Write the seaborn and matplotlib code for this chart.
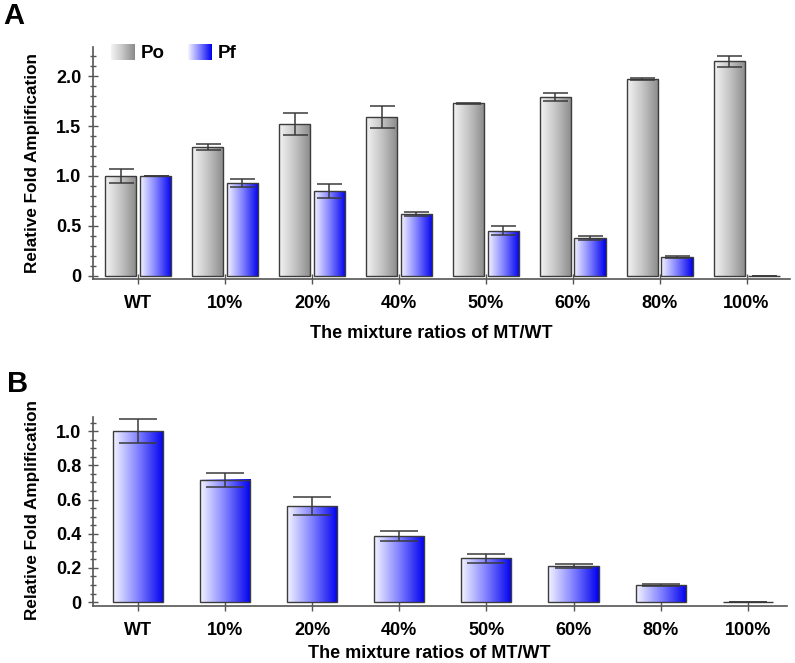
"""Relative fold amplification of Po / Pf at different MT/WT mixture ratios."""

import matplotlib

matplotlib.use("Agg")

import matplotlib.pyplot as plt
import numpy as np
import pandas as pd
import seaborn as sns
from matplotlib.colors import LinearSegmentedColormap
from matplotlib.image import BboxImage
from matplotlib.legend_handler import HandlerBase
from matplotlib.patches import Patch
from matplotlib.ticker import FixedLocator, MultipleLocator
from matplotlib.transforms import Bbox, TransformedBbox

# data
ratios = ["WT", "10%", "20%", "40%", "50%", "60%", "80%", "100%"]
po_mean = [1.00, 1.29, 1.52, 1.59, 1.73, 1.79, 1.97, 2.15]
po_err = [0.07, 0.03, 0.11, 0.11, 0.005, 0.04, 0.01, 0.055]
pf_mean = [1.00, 0.93, 0.85, 0.62, 0.45, 0.38, 0.19, 0.0]
pf_err = [0.0, 0.04, 0.07, 0.02, 0.045, 0.02, 0.01, 0.0]
b_mean = [1.00, 0.717, 0.561, 0.386, 0.257, 0.21, 0.097, 0.0]
b_err = [0.07, 0.041, 0.053, 0.031, 0.026, 0.012, 0.006, 0.0]
a_yticks = [0, 0.5, 1.0, 1.5, 2.0]
a_yticklabels = ["0", "0.5", "1.0", "1.5", "2.0"]
b_yticks = [0, 0.2, 0.4, 0.6, 0.8, 1.0]
b_yticklabels = ["0", "0.2", "0.4", "0.6", "0.8", "1.0"]

GRAY = LinearSegmentedColormap.from_list("po", ["#f4f4f4", "#c4c4c4", "#8a8a8a"])
BLUE = LinearSegmentedColormap.from_list("pf", ["#f4f4ff", "#8080ff", "#0000ee"])
EDGE = "#3c3c3c"
AXIS = "#555555"
FONT = ["Liberation Sans", "DejaVu Sans"]

sns.set_style("ticks")
plt.rcParams["font.family"] = FONT
plt.rcParams["font.weight"] = "bold"
plt.rcParams["text.color"] = "black"


class GradientHandler(HandlerBase):
    """Legend patch filled with a horizontal gradient."""

    def __init__(self, cmap):
        super().__init__()
        self.cmap = cmap

    def create_artists(self, legend, orig_handle, xdescent, ydescent, width, height, fontsize, trans):
        box = TransformedBbox(Bbox.from_bounds(-xdescent, -ydescent, width, height), trans)
        img = BboxImage(box, cmap=self.cmap, interpolation="bilinear")
        img.set_data(np.linspace(0, 1, 64).reshape(1, -1))
        return [img]


def fill_gradient(ax, bars, cmap):
    grad = np.linspace(0, 1, 128).reshape(1, -1)
    for patch in bars:
        x0, y0 = patch.get_x(), patch.get_y()
        w, h = patch.get_width(), patch.get_height()
        patch.set_facecolor("none")
        patch.set_zorder(2)
        if h <= 0:
            continue
        ax.imshow(grad, extent=[x0, x0 + w, y0, y0 + h], cmap=cmap, aspect="auto",
                  interpolation="bicubic", zorder=1)


def add_errors(ax, bars, errs, capsize):
    xs = [p.get_x() + p.get_width() / 2 for p in bars]
    ys = [p.get_height() for p in bars]
    ax.errorbar(xs, ys, yerr=errs, fmt="none", ecolor="#3a3a3a", elinewidth=1.1,
                capsize=capsize, capthick=1.1, zorder=3)


def style_axis(ax, ticks, labels, minor):
    sns.despine(ax=ax)
    for side in ["left", "bottom"]:
        ax.spines[side].set_color(AXIS)
        ax.spines[side].set_linewidth(1.2)
    ax.yaxis.set_major_locator(FixedLocator(ticks))
    ax.set_yticklabels(labels)
    ax.yaxis.set_minor_locator(MultipleLocator(minor))
    ax.tick_params(axis="y", which="major", direction="inout", length=7, width=1,
                   color=AXIS, labelcolor="black", labelsize=13, pad=5)
    ax.tick_params(axis="y", which="minor", direction="inout", length=4, width=1, color=AXIS)
    ax.tick_params(axis="x", which="major", direction="inout", length=7, width=1,
                   color=AXIS, labelcolor="black", labelsize=13, pad=8)
    for lab in ax.get_xticklabels() + ax.get_yticklabels():
        lab.set_fontweight("bold")
    ax.set_xlabel("")
    ax.set_ylabel("")


fig = plt.figure(figsize=(7.95, 6.63), dpi=100)
ax_a = fig.add_axes([0.1170, 0.5792, 0.8767, 0.3499])
ax_b = fig.add_axes([0.1170, 0.0860, 0.8730, 0.2851])

# panel A
df_a = pd.DataFrame({
    "ratio": ratios * 2,
    "value": po_mean + pf_mean,
    "strain": ["Po"] * len(ratios) + ["Pf"] * len(ratios),
})
sns.barplot(data=df_a, x="ratio", y="value", hue="strain", hue_order=["Po", "Pf"],
            palette=["#bbbbbb", "#6666ff"], width=0.8, gap=0.1, errorbar=None,
            edgecolor=EDGE, linewidth=1.0, legend=False, ax=ax_a)
po_bars, pf_bars = ax_a.containers[0], ax_a.containers[1]
fill_gradient(ax_a, po_bars, GRAY)
fill_gradient(ax_a, pf_bars, BLUE)
add_errors(ax_a, po_bars, po_err, 9)
add_errors(ax_a, pf_bars, pf_err, 9)
style_axis(ax_a, a_yticks, a_yticklabels, 0.1)
ax_a.set_xlim(-0.52, 7.5)
ax_a.set_ylim(-0.03, 2.29)

h_po, h_pf = Patch(label="Po"), Patch(label="Pf")
ax_a.legend(handles=[h_po, h_pf], labels=["Po", "Pf"], ncol=2, frameon=False,
            handler_map={h_po: GradientHandler(GRAY), h_pf: GradientHandler(BLUE)},
            loc="upper left", bbox_to_anchor=(111 / 795, 1 - 44 / 663),
            bbox_transform=fig.transFigure, borderpad=0, borderaxespad=0,
            handlelength=1.25, handleheight=0.9, handletextpad=0.35, columnspacing=1.2,
            prop={"size": 13.5, "weight": "bold"})

# panel B
sns.barplot(x=ratios, y=b_mean, color="#6666ff", width=0.575, errorbar=None,
            edgecolor=EDGE, linewidth=1.0, ax=ax_b)
b_bars = ax_b.containers[0]
fill_gradient(ax_b, b_bars, BLUE)
add_errors(ax_b, b_bars, b_err, 14)
style_axis(ax_b, b_yticks, b_yticklabels, 0.05)
ax_b.set_xlim(-0.513, 7.45)
ax_b.set_ylim(-0.023, 1.083)

# labels
ylab = "Relative Fold Amplification"
xlab = "The mixture ratios of MT/WT"
fig.text(33 / 795, 1 - 163 / 663, ylab, rotation=90, ha="center", va="center",
         fontsize=12.3, fontweight="bold")
fig.text(33 / 795, 1 - 510 / 663, ylab, rotation=90, ha="center", va="center",
         fontsize=12.3, fontweight="bold")
fig.text(431 / 795, 1 - 333 / 663, xlab, ha="center", va="center",
         fontsize=13, fontweight="bold")
fig.text(429 / 795, 1 - 653 / 663, xlab, ha="center", va="center",
         fontsize=13, fontweight="bold")
fig.text(3 / 795, 1 - 2 / 663, "A", ha="left", va="top", fontsize=21, fontweight="bold")
fig.text(7 / 795, 1 - 370 / 663, "B", ha="left", va="top", fontsize=21, fontweight="bold")

fig.savefig("out.png", dpi=100)
plt.close(fig)
